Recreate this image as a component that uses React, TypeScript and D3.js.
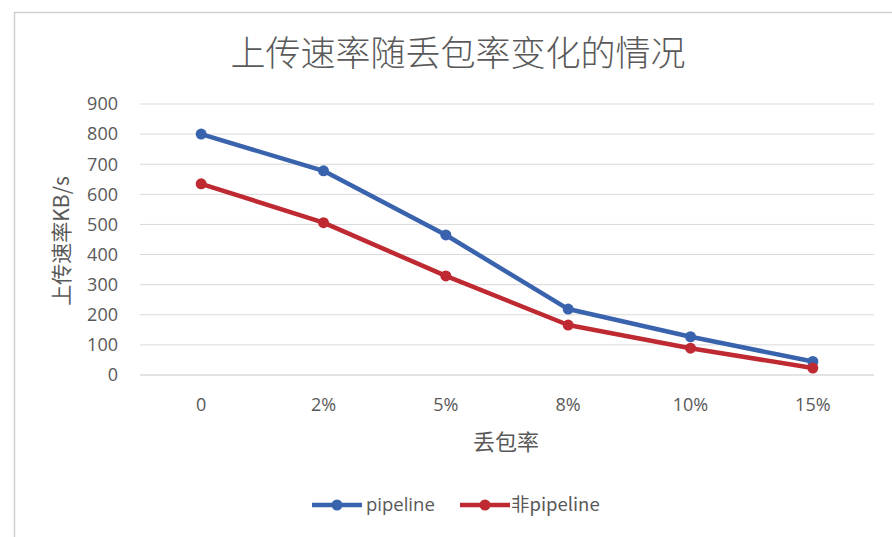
import React from "react";
import * as d3 from "d3";

const categories = ["0", "2%", "5%", "8%", "10%", "15%"];
const pipeline = [800, 678, 465, 219, 127, 45];
const nonPipeline = [635, 506, 329, 166, 89, 23];
const yTicks = [0, 100, 200, 300, 400, 500, 600, 700, 800, 900];
const seriesNames = ["pipeline", "非pipeline"];
const seriesColors = ["#3A63AE", "#BF2A32"];

const W = 892;
const H = 537;

export default function App() {
  const x = d3.scaleBand<string>().domain(categories).range([140, 874]);
  const y = d3.scaleLinear().domain([0, 900]).range([375, 104]);
  const cx = (c: string) => (x(c) as number) + x.bandwidth() / 2;
  const line = d3
    .line<number>()
    .x((_, i) => cx(categories[i]))
    .y((d) => y(d));
  const allSeries = [pipeline, nonPipeline];
  const font = "'Open Sans', 'Noto Sans CJK SC', sans-serif";
  const cjk = "'Noto Sans CJK SC', 'Open Sans', sans-serif";
  const legendItems = [
    { x0: 312, tx: 366 },
    { x0: 460, tx: 511 },
  ];
  return (
    <div style={{ position: "fixed", left: 0, top: 0 }}>
      <svg width={W} height={H} style={{ display: "block", background: "#fff" }}>
        <line x1={14} x2={W} y1={12.5} y2={12.5} stroke="#d0d0d0" strokeWidth={1.5} />
        <line x1={14.5} x2={14.5} y1={12} y2={H} stroke="#d0d0d0" strokeWidth={1.5} />
        <text
          x={458}
          y={66}
          textAnchor="middle"
          fontFamily={cjk}
          fontSize={35}
          fontWeight={300}
          fill="#595959"
        >
          上传速率随丢包率变化的情况
        </text>
        {yTicks.map((t) => (
          <g key={t}>
            <line x1={140} x2={874} y1={y(t)} y2={y(t)} stroke={t === 0 ? "#c8c8c8" : "#d9d9d9"} strokeWidth={1} />
            <text x={118} y={y(t)} dy="0.35em" textAnchor="end" fontFamily={font} fontSize={18} fill="#595959">
              {t}
            </text>
          </g>
        ))}
        {categories.map((c) => (
          <text key={c} x={cx(c)} y={411} textAnchor="middle" fontFamily={font} fontSize={18} fill="#595959">
            {c}
          </text>
        ))}
        <text
          transform={`translate(69,241) rotate(-90)`}
          textAnchor="middle"
          fontFamily={cjk}
          fontSize={21}
          fill="#595959"
        >
          上传速率KB/s
        </text>
        <text x={506} y={450} textAnchor="middle" fontFamily={cjk} fontSize={22} fill="#595959">
          丢包率
        </text>
        {allSeries.map((s, si) => (
          <g key={si}>
            <path d={line(s) || ""} fill="none" stroke={seriesColors[si]} strokeWidth={4.5} strokeLinejoin="round" />
            {s.map((v, i) => (
              <circle key={i} cx={cx(categories[i])} cy={y(v)} r={5.5} fill={seriesColors[si]} />
            ))}
          </g>
        ))}
        {legendItems.map((it, i) => (
          <g key={i}>
            <line x1={it.x0} x2={it.x0 + 50} y1={505} y2={505} stroke={seriesColors[i]} strokeWidth={4.5} />
            <circle cx={it.x0 + 25} cy={505} r={5.5} fill={seriesColors[i]} />
            <text x={it.tx} y={505} dy="0.35em" fontFamily={i === 1 ? cjk : font} fontSize={18.5} fill="#595959">
              {seriesNames[i]}
            </text>
          </g>
        ))}
      </svg>
    </div>
  );
}
